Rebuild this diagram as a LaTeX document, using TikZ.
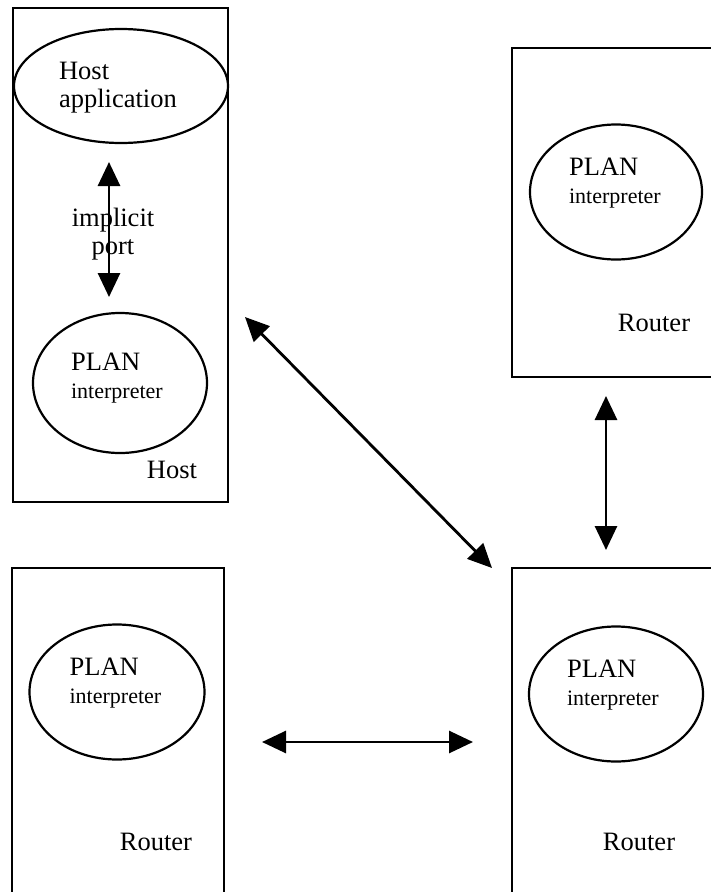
\documentclass[tikz,border=0pt]{standalone}
\usepackage{fontspec}
\setmainfont{Liberation Serif}
\usetikzlibrary{arrows.meta,shapes.geometric}
\newcommand{\bigtext}{\fontsize{26.5}{28}\selectfont}
\newcommand{\smalltext}{\fontsize{22}{26}\selectfont}
\begin{document}
\begin{tikzpicture}[x=1pt,y=-1pt,
    box/.style={draw,line width=2.2pt,inner sep=0pt},
    blob/.style={draw,ellipse,line width=2.2pt,inner sep=0pt},
    lbl/.style={font=\bigtext,inner sep=0pt},
    plan/.style={align=left,inner sep=0pt,anchor=west,font=\bigtext},
    link/.style={{Triangle[length=24pt,width=22pt]}-{Triangle[length=24pt,width=22pt]},line width=2.8pt}]
      \useasboundingbox (0,0) rectangle (711,892);
      \fill[white] (0,0) rectangle (711,892);
      % boxes
      \node[box,minimum width=215pt,minimum height=494pt] (host) at (120.5,255) {};
      \node[box,minimum width=210pt,minimum height=329pt] (router1) at (617,212.5) {};
      \node[box,minimum width=210pt,minimum height=340pt] (router2) at (617,738) {};
      \node[box,minimum width=212pt,minimum height=340pt] (router3) at (118,738) {};
      % ellipses
      \node[blob,minimum width=214pt,minimum height=114pt] (app) at (121,86) {};
      \node[blob,minimum width=174pt,minimum height=140pt] (pi0) at (120,383) {};
      \node[blob,minimum width=172pt,minimum height=135pt] (pi1) at (616,192) {};
      \node[blob,minimum width=174pt,minimum height=135pt] (pi2) at (616,694) {};
      \node[blob,minimum width=175pt,minimum height=135pt] (pi3) at (117,692) {};
      % texts
      \node[plan] (apptext) at ([xshift=46pt,yshift=-2pt]app.west) {Host\\application};
      \node[plan] (pi0text) at ([xshift=39pt,yshift=5pt]pi0.west) {PLAN\\{\smalltext interpreter}};
      \node[plan] (pi1text) at ([xshift=40pt,yshift=9pt]pi1.west) {PLAN\\{\smalltext interpreter}};
      \node[plan] (pi2text) at ([xshift=39pt,yshift=9pt]pi2.west) {PLAN\\{\smalltext interpreter}};
      \node[plan] (pi3text) at ([xshift=41pt,yshift=9pt]pi3.west) {PLAN\\{\smalltext interpreter}};
      \node[lbl] (hostname) at (172,470) {Host};
      \node[lbl] (r1name) at (654,323) {Router};
      \node[lbl] (r2name) at (639,842) {Router};
      \node[lbl] (r3name) at (156,842) {Router};
      \node[lbl,align=center] (port) at (113,234) {implicit\\port};
      % link ends
      \coordinate (a1) at (109,162);
      \coordinate (a2) at (109,297);
      \coordinate (b1) at (245,317);
      \coordinate (b2) at (492,568);
      \coordinate (c1) at (606,396);
      \coordinate (c2) at (606,550);
      \coordinate (d1) at (262,742);
      \coordinate (d2) at (473,742);
      \begin{scope}[link]
        \draw (a1) to (a2);
        \draw (b1) to (b2);
        \draw (c1) to (c2);
        \draw (d1) to (d2);
      \end{scope}
    \end{tikzpicture}
\end{document}
